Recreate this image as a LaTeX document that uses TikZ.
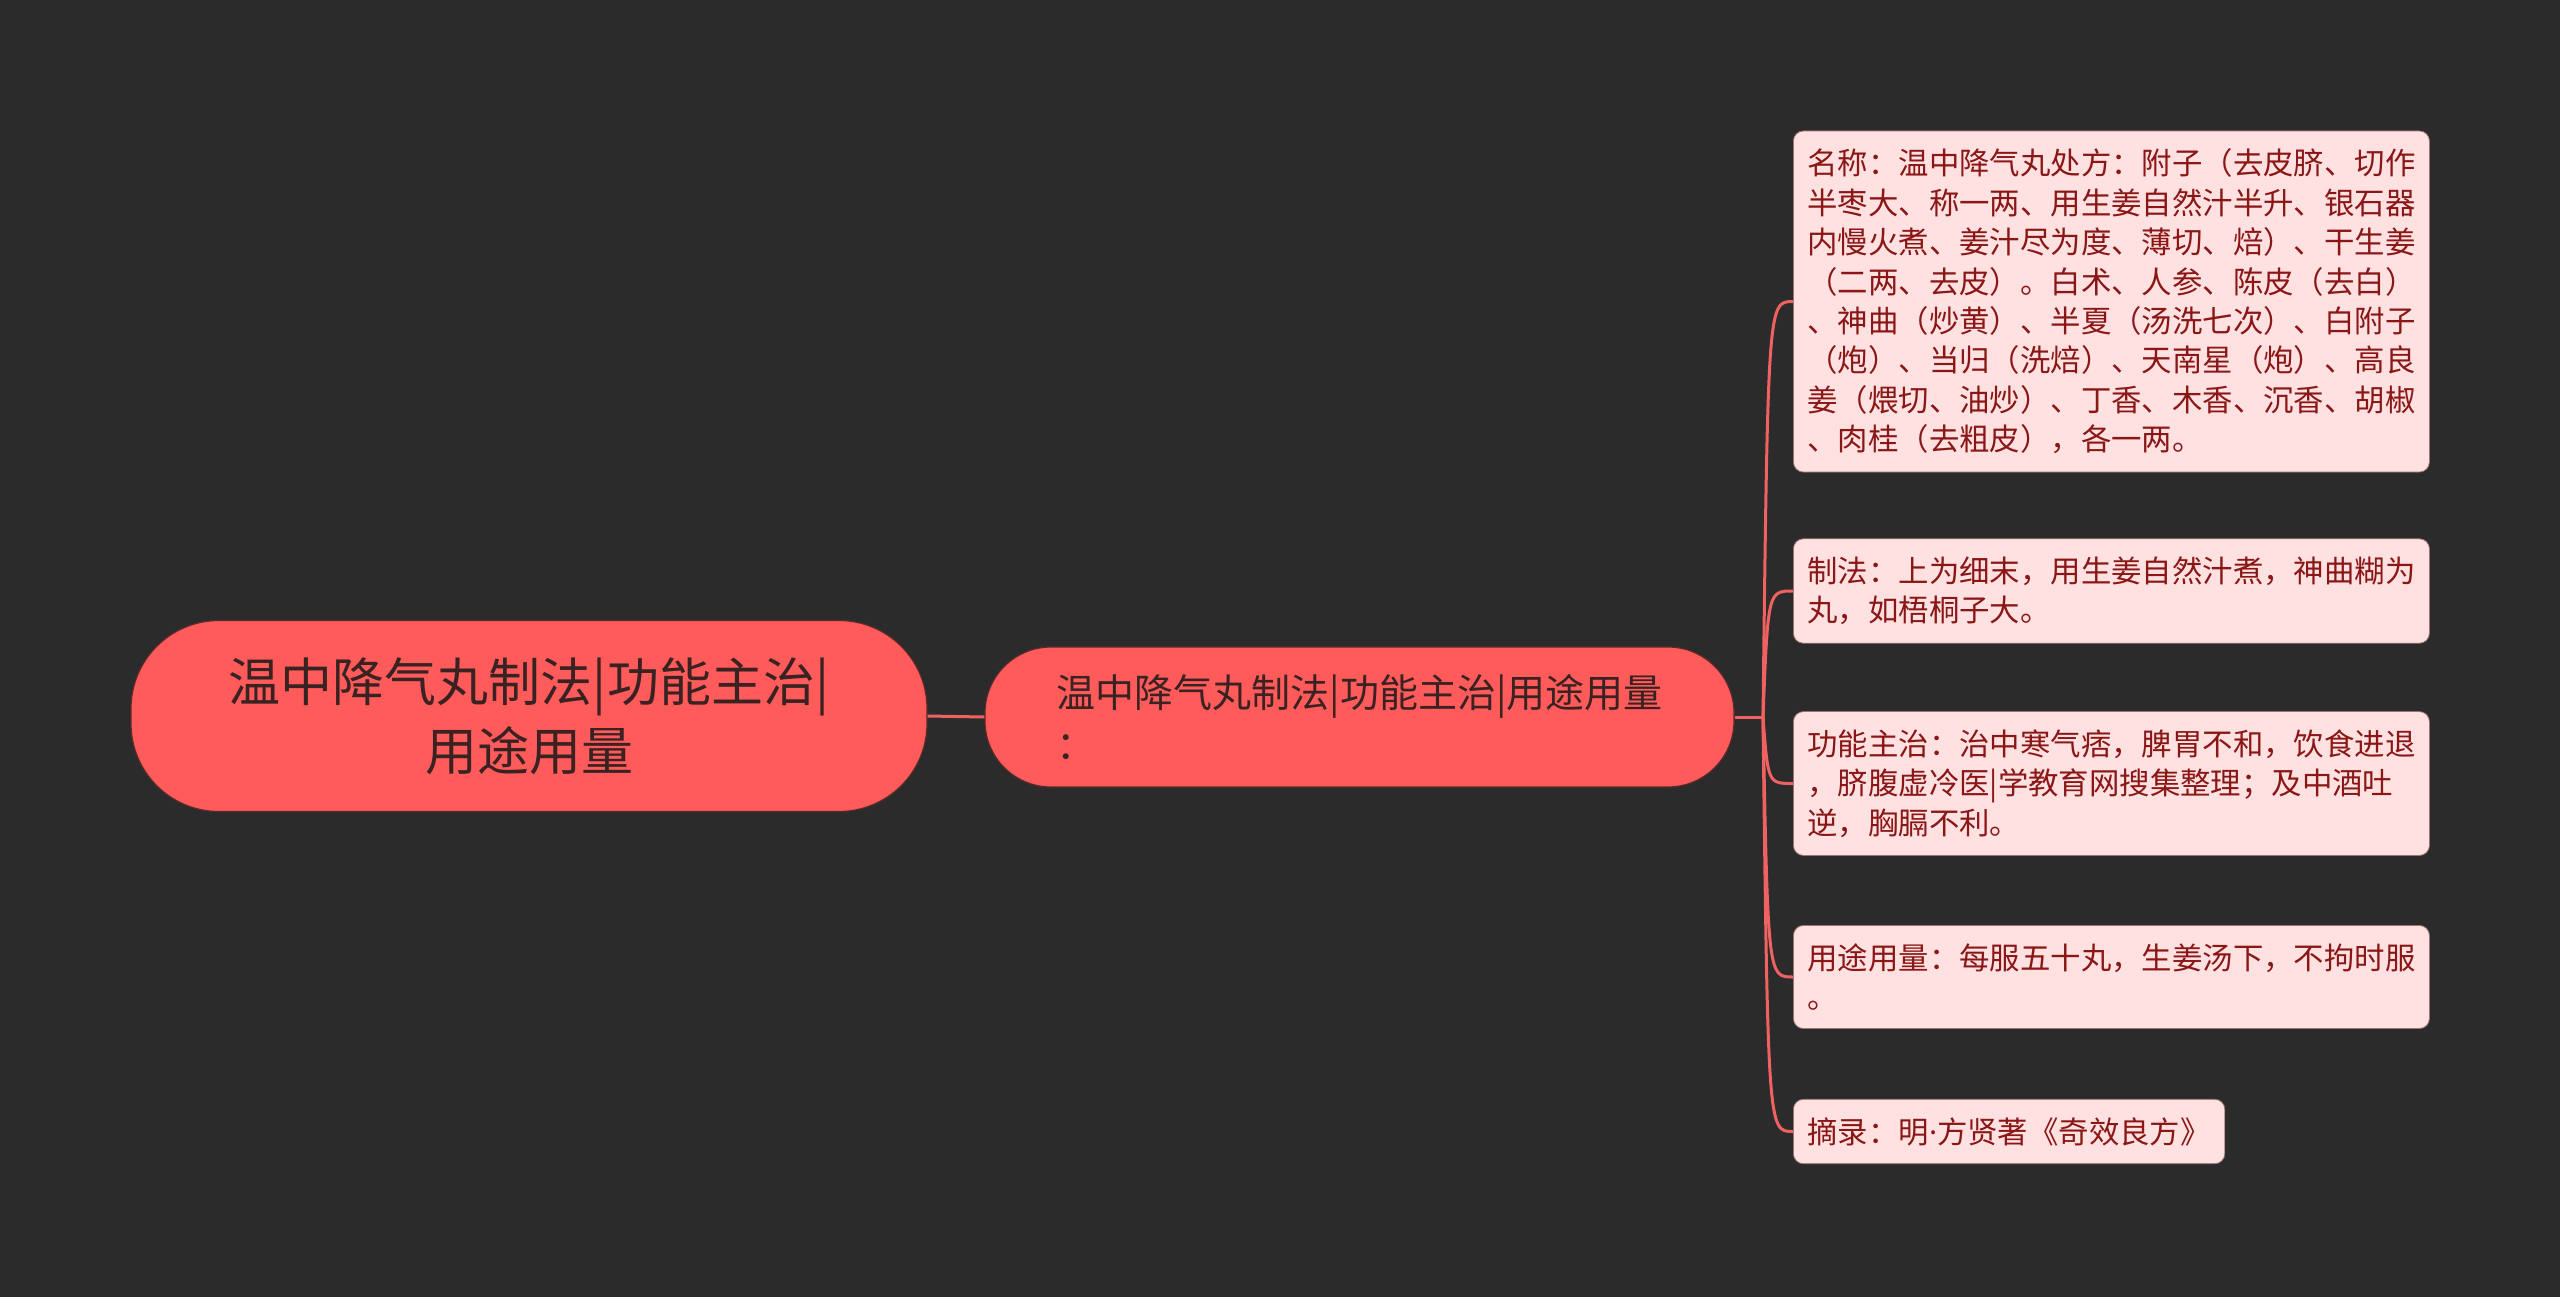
\documentclass[tikz,border=0pt]{standalone}
\usepackage{fontspec}
\setmainfont{Noto Sans CJK SC}
\newfontfamily\latinsans{Noto Sans}
\definecolor{bg}{HTML}{2B2B2B}
\definecolor{mainred}{HTML}{FF5B5B}
\definecolor{edgered}{HTML}{F06262}
\definecolor{leaffill}{HTML}{FFE1E1}
\definecolor{leaftext}{HTML}{8A1616}
\definecolor{darktext}{HTML}{3A2222}
\definecolor{outline}{HTML}{5A2A2A}
\begin{document}
\begin{tikzpicture}[x=0.5pt,y=-0.5pt,
  rootbox/.style={fill=mainred,draw=outline,line width=0.6pt,rounded corners=44pt,
    minimum width=398pt,minimum height=95.5pt,align=center,text=darktext,
    font=\fontsize{26pt}{34.5pt}\selectfont},
  childbox/.style={fill=mainred,draw=outline,line width=0.6pt,rounded corners=33pt,
    minimum width=374.5pt,minimum height=70pt,text width=303pt,align=left,text=darktext,
    font=\fontsize{19.5pt}{26pt}\selectfont},
  leafbox/.style={fill=leaffill,draw=outline!60!leaffill,line width=0.4pt,rounded corners=5pt,
    anchor=west,inner xsep=7pt,inner ysep=9pt,align=left,text=leaftext,
    font=\fontsize{15.2pt}{19.7pt}\selectfont},
  wideleaf/.style={leafbox,text width=304pt},
  conn/.style={draw=edgered,line width=1.5pt}]
\useasboundingbox (0,0) rectangle (2560,1297);
\fill[bg] (0,0) rectangle (2560,1297);

\node[rootbox] (root) at (529,716) {温中降气丸制法|功能主治|\\用途用量};
\node[childbox] (child) at (1359.5,717) {温中降气丸制法|功能主治|用途用量\\：};

\node[wideleaf] (l1) at (1793,301.5) {名称：温中降气丸处方：附子（去皮脐、切作\\半枣大、称一两、用生姜自然汁半升、银石器\\内慢火煮、姜汁尽为度、薄切、焙）、干生姜\\（二两、去皮）。白术、人参、陈皮（去白）\\、神曲（炒黄）、半夏（汤洗七次）、白附子\\（炮）、当归（洗焙）、天南星（炮）、高良\\姜（煨切、油炒）、丁香、木香、沉香、胡椒\\、肉桂（去粗皮），各一两。};
\node[wideleaf] (l2) at (1793,591) {制法：上为细末，用生姜自然汁煮，神曲糊为\\丸，如梧桐子大。};
\node[wideleaf] (l3) at (1793,783.5) {功能主治：治中寒气痞，脾胃不和，饮食进退\\，脐腹虚冷医|学教育网搜集整理；及中酒吐\\逆，胸膈不利。};
\node[wideleaf] (l4) at (1793,977) {用途用量：每服五十丸，生姜汤下，不拘时服\\。};
\node[leafbox] (l5) at (1793,1131.5) {摘录：明{\latinsans ·}方贤著《奇效良方》};

\coordinate (hub) at (1763,717);
\draw[conn] (root.east) -- (child.west);
\draw[conn] (child.east) -- (hub);
\foreach \n/\yy in {l1/301.5,l2/591,l3/783.5,l4/977,l5/1131.5}{
  \draw[conn] (hub) .. controls (1768,\yy) and (1768,\yy) .. (\n.west);
}
\end{tikzpicture}
\end{document}
